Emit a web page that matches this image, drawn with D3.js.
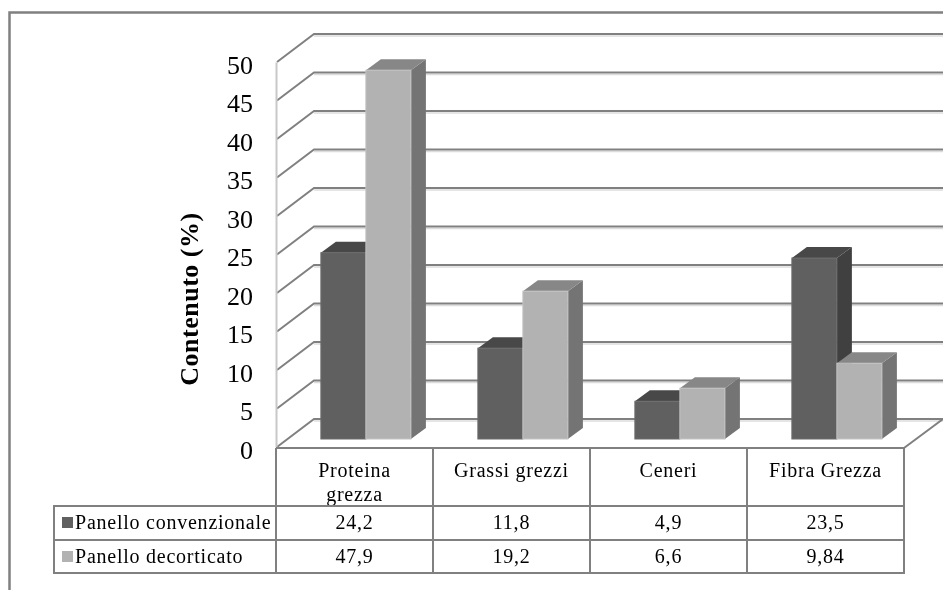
<!DOCTYPE html>
<html>
<head>
<meta charset="utf-8">
<script src="https://cdn.jsdelivr.net/npm/d3@7"></script>
<style>
  html, body { margin: 0; padding: 0; background: #fff; overflow: hidden; }
  svg { display: block; filter: blur(0.35px); }
  text { font-family: "Liberation Serif", serif; fill: #000; }
  .cell { font-size: 20px; letter-spacing: 0.76px; }
</style>
</head>
<body>
<script>
const categories = ["Proteina grezza", "Grassi grezzi", "Ceneri", "Fibra Grezza"];
const seriesNames = ["Panello convenzionale", "Panello decorticato"];
const convenzionale = [24.2, 11.8, 4.9, 23.5];
const decorticato = [47.9, 19.2, 6.6, 9.84];
const convLabels = ["24,2", "11,8", "4,9", "23,5"];
const decoLabels = ["47,9", "19,2", "6,6", "9,84"];
const yTicks = [0, 5, 10, 15, 20, 25, 30, 35, 40, 45, 50];

const width = 943, height = 590;
const lineColor = "#808080";

// 3d look of the old spreadsheet chart: everything goes back by this offset
const depthX = 37, depthY = -28;
const barDepthX = 15, barDepthY = -11, barLift = 8;

const svg = d3.select("body").append("svg")
  .attr("width", width)
  .attr("height", height);

const y = d3.scaleLinear().domain([0, 50]).range([447, 62]);
const x = d3.scaleBand().domain(categories).range([276, 904]);
const xInner = d3.scaleBand().domain(seriesNames)
  .range([0, x.bandwidth()])
  .paddingOuter(0.744)
  .align(0.67);

// outer frame, open on the right and bottom
svg.append("path")
  .attr("d", "M" + 9.5 + "," + height + "V12.5H" + width)
  .attr("fill", "none")
  .attr("stroke", lineColor)
  .attr("stroke-width", 2.5);

// gridlines on the side wall and back wall
const grid = svg.append("g");
yTicks.forEach(t => {
  const y0 = y(t);
  grid.append("path")
    .attr("d", `M314,${y0 + depthY + 2}H${width}`)
    .attr("fill", "none")
    .attr("stroke", "#dcdcdc")
    .attr("stroke-width", 1.5);
  grid.append("path")
    .attr("d", `M277,${y0}L${277 + depthX},${y0 + depthY}H${width}`)
    .attr("fill", "none")
    .attr("stroke", lineColor)
    .attr("stroke-width", 2);
});

// floor edge on the right
svg.append("line")
  .attr("x1", 904).attr("y1", 448)
  .attr("x2", 943).attr("y2", 419)
  .attr("stroke", lineColor)
  .attr("stroke-width", 2);

// y axis
const yAxis = d3.axisLeft(y).tickValues(yTicks).tickSize(0).tickPadding(23);
const yG = svg.append("g")
  .attr("transform", "translate(276,0)")
  .call(yAxis);
yG.select(".domain").attr("stroke", "#c8c8c8").attr("stroke-width", 2);
yG.selectAll("text")
  .attr("dy", "0.44em")
  .style("font-size", "26px")
  .style("font-family", '"Liberation Serif", serif');

svg.append("text")
  .attr("transform", "translate(198,299) rotate(-90)")
  .attr("text-anchor", "middle")
  .attr("font-size", "26px")
  .attr("letter-spacing", "0.5px")
  .attr("font-weight", "bold")
  .text("Contenuto (%)");

// bars
const seriesStyle = [
  { values: convenzionale, front: "#606060", top: "#484848", side: "#404040", edge: "#6c6c6c" },
  { values: decorticato, front: "#b2b2b2", top: "#878787", side: "#747474", edge: "#c4c4c4" }
];

function drawBar(cat, name, value, st) {
  const x0 = x(cat) + xInner(name);
  const x1 = x0 + xInner.bandwidth();
  const yb = y(0) - barLift;
  const yt = y(value) - barLift;
  const g = svg.append("g");
  g.append("path")
    .attr("d", `M${x1},${yb}V${yt}l${barDepthX},${barDepthY}V${yb + barDepthY}Z`)
    .attr("fill", st.side);
  g.append("path")
    .attr("d", `M${x0},${yt}H${x1}l${barDepthX},${barDepthY}H${x0 + barDepthX}Z`)
    .attr("fill", st.top);
  g.append("rect")
    .attr("x", x0)
    .attr("y", yt)
    .attr("width", x1 - x0)
    .attr("height", yb - yt)
    .attr("fill", st.front)
    .attr("stroke", st.edge)
    .attr("stroke-width", 1);
}

categories.forEach((cat, i) => {
  seriesStyle.forEach((st, j) => {
    drawBar(cat, seriesNames[j], st.values[i], st);
  });
});

// data table under the chart
const table = svg.append("g");
const rowLines = [506, 540, 573];
const colLines = x.domain().map(c => x(c)).concat([904]);

const header = table.append("g").attr("class", "cell").attr("text-anchor", "middle");
categories.forEach(cat => {
  const cx = x(cat) + x.bandwidth() / 2;
  if (cat === "Proteina grezza") {
    header.append("text").attr("x", cx).attr("y", 477).text("Proteina");
    header.append("text").attr("x", cx).attr("y", 501).text("grezza");
  } else {
    header.append("text").attr("x", cx).attr("y", 477).text(cat);
  }
});

[convLabels, decoLabels].forEach((labels, r) => {
  const yText = rowLines[r] + 23;
  labels.forEach((lab, i) => {
    table.append("text")
      .attr("class", "cell")
      .attr("text-anchor", "middle")
      .attr("x", x(categories[i]) + x.bandwidth() / 2)
      .attr("y", yText)
      .text(lab);
  });
  table.append("rect")
    .attr("x", 62)
    .attr("y", rowLines[r] + 11)
    .attr("width", 11)
    .attr("height", 11)
    .attr("fill", seriesStyle[r].front);
  table.append("text")
    .attr("class", "cell")
    .attr("x", 75)
    .attr("y", yText)
    .text(seriesNames[r]);
});

// table rules
const rule = (x1, y1, x2, y2) => table.append("line")
  .attr("x1", x1).attr("y1", y1)
  .attr("x2", x2).attr("y2", y2)
  .attr("stroke", lineColor)
  .attr("stroke-width", 2);

rule(276, 448, 904, 448);
rowLines.forEach(ry => rule(54, ry, 904, ry));
rule(54, 505, 54, 574);
colLines.forEach(cx => rule(cx, 448, cx, 574));
</script>
</body>
</html>
